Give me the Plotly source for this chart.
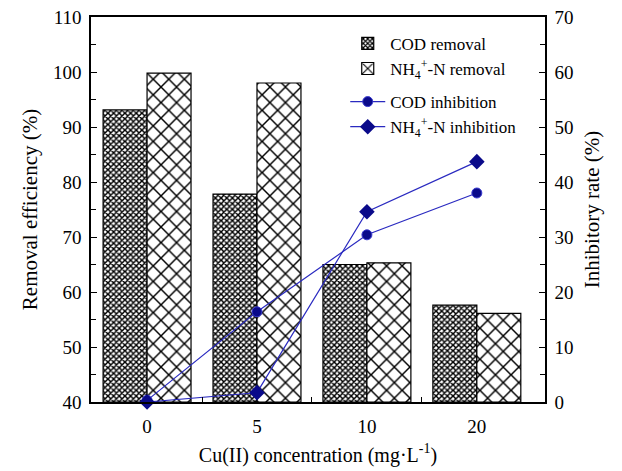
import plotly.graph_objects as go

conc_labels = ["0", "5", "10", "20"]
cod_removal = [93.1, 77.8, 65.0, 57.6]
nh4_removal = [99.8, 98.0, 65.3, 56.1]
cod_inhib = [0.3, 16.4, 30.4, 38.0]
nh4_inhib = [0.0, 1.7, 34.6, 43.7]

xpos = list(range(len(conc_labels)))
FONT = "Liberation Serif"
LINE_C = "#2a2ac0"
MARK_C = "#0a0a8a"

fig = go.Figure()
fig.add_trace(go.Bar(
    x=xpos, y=[v - 40 for v in cod_removal], base=40, name="COD removal",
    marker=dict(color="white", line=dict(color="black", width=1.2),
                pattern=dict(shape="x", size=4, solidity=0.6, fgcolor="black", bgcolor="white", fgopacity=1)),
    legendgroup="bars", yaxis="y"))
fig.add_trace(go.Bar(
    x=xpos, y=[v - 40 for v in nh4_removal], base=40, name="NH<sub>4</sub><sup>+</sup>-N removal",
    marker=dict(color="white", line=dict(color="black", width=1.2),
                pattern=dict(shape="x", size=11, solidity=0.25, fgcolor="black", bgcolor="white", fgopacity=1)),
    legendgroup="bars", yaxis="y"))
fig.add_trace(go.Scatter(
    x=xpos, y=cod_inhib, name="COD inhibition", mode="lines+markers",
    line=dict(color=LINE_C, width=1.2),
    marker=dict(symbol="circle", size=10, color=MARK_C, line=dict(color="#3b3bd0", width=1)),
    legendgroup="lines", yaxis="y2", cliponaxis=False))
fig.add_trace(go.Scatter(
    x=xpos, y=nh4_inhib, name="NH<sub>4</sub><sup>+</sup>-N inhibition", mode="lines+markers",
    line=dict(color=LINE_C, width=1.2),
    marker=dict(symbol="diamond", size=12, color=MARK_C),
    legendgroup="lines", yaxis="y2", cliponaxis=False))

axis_common = dict(showline=True, linecolor="black", linewidth=1.5, showgrid=False, zeroline=False,
                   automargin=False, tickfont=dict(family=FONT, size=19, color="black"))

fig.update_layout(
    width=622, height=471,
    margin=dict(l=91, r=77, t=17, b=69),
    plot_bgcolor="white", paper_bgcolor="white",
    barmode="group", bargap=0.2, bargroupgap=0,
    font=dict(family=FONT, color="black", size=18),
    xaxis=dict(**axis_common, range=[-0.51, 3.62], tickmode="array", tickvals=xpos, ticktext=conc_labels,
               ticks="inside", ticklen=0, mirror=True, ticklabelstandoff=6,
               minor=dict(tickmode="array", tickvals=[0.5, 1.5, 2.5], ticks="inside", ticklen=5, tickcolor="black"),
               title=dict(text="Cu(II) concentration (mg·L<sup>-1</sup>)", font=dict(family=FONT, size=20), standoff=12)),
    yaxis=dict(**axis_common, range=[40, 110], tickmode="linear", tick0=40, dtick=10, ticks="inside",
               ticklen=6, tickcolor="black", mirror=False, ticklabelstandoff=4,
               minor=dict(dtick=5, ticks="inside", ticklen=5, tickcolor="black"),
               title=dict(text="Removal efficiency (%)", font=dict(family=FONT, size=21), standoff=10)),
    yaxis2=dict(**axis_common, range=[0, 70], tickmode="linear", tick0=0, dtick=10, ticks="inside",
                ticklen=6, tickcolor="black", overlaying="y", side="right", ticklabelstandoff=4,
                minor=dict(dtick=5, ticks="inside", ticklen=5, tickcolor="black"),
                title=dict(text="Inhibitory rate (%)", font=dict(family=FONT, size=21), standoff=12)),
    legend=dict(x=0.56, y=0.977, xanchor="left", yanchor="top", bgcolor="rgba(0,0,0,0)",
                font=dict(family=FONT, size=17), tracegroupgap=8, itemwidth=35, traceorder="grouped"),
)

fig.write_html("out.html")
